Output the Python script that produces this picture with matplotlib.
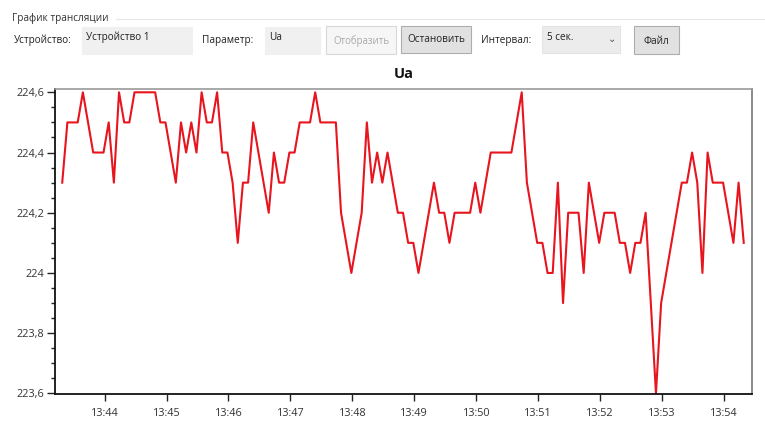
import matplotlib
matplotlib.use("Agg")
import matplotlib.pyplot as plt
import matplotlib.dates as mdates
from matplotlib.patches import Rectangle
from matplotlib.lines import Line2D
from matplotlib.ticker import MultipleLocator, FixedLocator, FuncFormatter
from datetime import datetime, timedelta

plt.rcParams['font.family'] = ['Open Sans', 'DejaVu Sans']

# Ua readings, one every 5 seconds
start_time = datetime(2024, 1, 1, 13, 43, 19)
step_seconds = 5
ua_values = [
    224.3, 224.5, 224.5, 224.5, 224.6, 224.5, 224.4, 224.4, 224.4, 224.5,
    224.3, 224.6, 224.5, 224.5, 224.6, 224.6, 224.6, 224.6, 224.6, 224.5,
    224.5, 224.4, 224.3, 224.5, 224.4, 224.5, 224.4, 224.6, 224.5, 224.5,
    224.6, 224.4, 224.4, 224.3, 224.1, 224.3, 224.3, 224.5, 224.4, 224.3,
    224.2, 224.4, 224.3, 224.3, 224.4, 224.4, 224.5, 224.5, 224.5, 224.6,
    224.5, 224.5, 224.5, 224.5, 224.2, 224.1, 224.0, 224.1, 224.2, 224.5,
    224.3, 224.4, 224.3, 224.4, 224.3, 224.2, 224.2, 224.1, 224.1, 224.0,
    224.1, 224.2, 224.3, 224.2, 224.2, 224.1, 224.2, 224.2, 224.2, 224.2,
    224.3, 224.2, 224.3, 224.4, 224.4, 224.4, 224.4, 224.4, 224.5, 224.6,
    224.3, 224.2, 224.1, 224.1, 224.0, 224.0, 224.3, 223.9, 224.2, 224.2,
    224.2, 224.0, 224.3, 224.2, 224.1, 224.2, 224.2, 224.2, 224.1, 224.1,
    224.0, 224.1, 224.1, 224.2, 223.9, 223.6, 223.9, 224.0, 224.1, 224.2,
    224.3, 224.3, 224.4, 224.3, 224.0, 224.4, 224.3, 224.3, 224.3, 224.2,
    224.1, 224.3, 224.1,
]
times = [start_time + timedelta(seconds=step_seconds * i) for i in range(len(ua_values))]

y_ticks = [223.6, 223.8, 224.0, 224.2, 224.4, 224.6]

W, H = 765, 423
fig = plt.figure(figsize=(W / 100, H / 100), dpi=100)
fig.patch.set_facecolor("white")


def fx(x):
    return x / W


def fy(y):
    return 1 - y / H


def box(x0, y0, x1, y1, face, edge):
    fig.patches.append(Rectangle((fx(x0), fy(y1)), fx(x1) - fx(x0), fy(y0) - fy(y1),
                                 transform=fig.transFigure, facecolor=face,
                                 edgecolor=edge, linewidth=0.8))


# Form controls above the chart
ui_size = 7.2
fig.text(fx(12), fy(18), "График трансляции", fontsize=ui_size, color="#333333", va="center")
fig.lines.append(Line2D([fx(116), fx(765)], [fy(19), fy(19)], transform=fig.transFigure,
                        color="#e6e6e6", linewidth=0.8))

fig.text(fx(14), fy(40), "Устройство:", fontsize=ui_size, color="#222222", va="center")
box(82, 27, 192, 54, "#f0f0f0", "#f0f0f0")
fig.text(fx(86), fy(37), "Устройство 1", fontsize=ui_size, color="#222222", va="center")

fig.text(fx(202), fy(40), "Параметр:", fontsize=ui_size, color="#222222", va="center")
box(265, 27, 320, 54, "#f0f0f0", "#f0f0f0")
fig.text(fx(269), fy(37), "Ua", fontsize=ui_size, color="#222222", va="center")

box(326, 26, 396, 54, "#f6f6f6", "#d8d8d8")
fig.text(fx(361), fy(41), "Отобразить", fontsize=ui_size - 0.3, color="#a8a8a8", ha="center", va="center")

box(401, 26, 471, 53, "#e1e1e1", "#adadad")
fig.text(fx(436), fy(40), "Остановить", fontsize=ui_size, color="#222222", ha="center", va="center")

fig.text(fx(481), fy(40), "Интервал:", fontsize=ui_size, color="#222222", va="center")
box(542, 26, 620, 53, "#ececec", "#e4e4e4")
fig.text(fx(547), fy(37), "5 сек.", fontsize=ui_size, color="#222222", va="center")
fig.text(fx(612), fy(39), "⌄", fontsize=ui_size, color="#555555", ha="center", va="center",
         family=["DejaVu Sans"])

box(634, 26, 679, 54, "#e1e1e1", "#adadad")
fig.text(fx(656.5), fy(41), "Файл", fontsize=ui_size, color="#222222", ha="center", va="center")

# Chart
ax = fig.add_axes([fx(55), fy(394), fx(752) - fx(55), fy(89) - fy(394)])
ax.plot(times, ua_values, color="#e8141e", linewidth=1.5)

ax.set_xlim(datetime(2024, 1, 1, 13, 43, 12), datetime(2024, 1, 1, 13, 54, 27))
ax.set_ylim(223.598, 224.611)

ax.xaxis.set_major_locator(mdates.MinuteLocator())
ax.xaxis.set_major_formatter(mdates.DateFormatter("%H:%M"))
ax.yaxis.set_major_locator(FixedLocator(y_ticks))
ax.yaxis.set_minor_locator(MultipleLocator(0.05))
ax.yaxis.set_major_formatter(FuncFormatter(lambda v, p: f"{v:g}".replace(".", ",")))

ax.tick_params(axis="both", which="major", labelsize=7.8, labelcolor="#333333",
               color="#222222", direction="out")
ax.tick_params(axis="y", which="major", length=6, width=1, pad=2)
ax.tick_params(axis="y", which="minor", length=3, width=1, color="#222222")
ax.tick_params(axis="x", which="major", length=5, width=1, pad=5)

ax.spines["left"].set_color("#111111")
ax.spines["bottom"].set_color("#111111")
ax.spines["left"].set_linewidth(1.3)
ax.spines["bottom"].set_linewidth(1.3)
ax.spines["top"].set_color("#999999")
ax.spines["right"].set_color("#777777")
ax.spines["top"].set_linewidth(1.2)
ax.spines["right"].set_linewidth(1.2)

fig.text(fx(403.5), fy(74), "Ua", fontsize=10.5, fontweight="bold", color="#111111",
         ha="center", va="center")

fig.savefig("out.png", dpi=100)
